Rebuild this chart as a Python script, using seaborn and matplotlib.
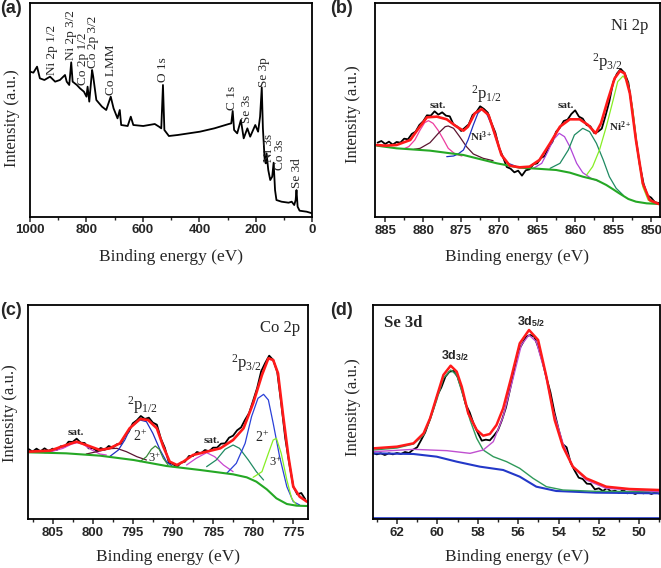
import matplotlib
matplotlib.use("Agg")
import matplotlib.pyplot as plt
from matplotlib.ticker import MultipleLocator
import seaborn as sns

# ---------------- Panel (a): survey spectrum ----------------
a_ev = [1000, 988, 975, 965, 949, 929, 911, 894, 876, 870, 861, 854, 849, 834, 823, 809, 800, 796,
        790, 780, 776, 765, 745, 730, 714, 704, 690, 682, 677, 654, 643, 634, 599, 558, 543, 535,
        529, 524, 508, 477, 398, 347, 296, 287, 282, 277, 266, 253, 243, 230, 220, 202, 192, 185,
        179, 175, 169, 165, 162, 156, 149, 142, 137, 132, 127, 109, 84, 73, 64, 59, 56, 52, 45, 20, 0]
a_int = [435, 432, 450, 415, 410, 420, 405, 410, 425, 405, 395, 463, 405, 395, 385, 375, 360, 390,
         345, 440, 420, 350, 330, 320, 360, 325, 295, 320, 275, 272, 300, 275, 272, 278, 270, 265,
         395, 260, 242, 245, 255, 265, 278, 280, 317, 260, 250, 290, 235, 265, 240, 275, 255, 300,
         388, 265, 175, 160, 190, 140, 110, 120, 162, 80, 50, 45, 42, 45, 35, 50, 80, 30, 18, 15, 10]
a_labels = ["Ni 2p 1/2", "Ni 2p 3/2", "Co 2p 1/2", "Co 2p 3/2", "Co LMM", "O 1s", "C 1s",
            "Se 3s", "Se 3p", "Ni 3s", "Co 3s", "Se 3d"]
a_label_ev = [923, 855, 811, 778, 713, 530, 283, 231, 170, 152, 116, 54]
a_label_int = [425, 470, 395, 445, 365, 405, 320, 280, 390, 165, 140, 85]

# ---------------- Panel (b): Ni 2p ----------------
b_ev = [886.0, 885.5, 885.0, 884.5, 884.0, 883.5, 883.0, 882.5, 882.0, 881.5, 881.0, 880.5, 880.0,
        879.5, 879.0, 878.5, 878.0, 877.5, 877.0, 876.5, 876.0, 875.5, 875.0, 874.5, 874.0, 873.5,
        873.0, 872.5, 872.0, 871.5, 871.0, 870.5, 870.0, 869.5, 869.0, 868.5, 868.0, 867.5, 867.0,
        866.5, 866.0, 865.5, 865.0, 864.5, 864.0, 863.5, 863.0, 862.5, 862.0, 861.5, 861.0, 860.5,
        860.0, 859.5, 859.0, 858.5, 858.0, 857.5, 857.0, 856.5, 856.0, 855.5, 855.0, 854.5, 854.0,
        853.5, 853.0, 852.5, 852.0, 851.5, 851.0, 850.5, 850.0, 849.5, 849.0]
b_raw = [223, 228, 219, 226, 217, 225, 223, 235, 233, 249, 256, 276, 287,
         305, 304, 317, 307, 314, 304, 302, 277, 271, 258, 268, 278, 306,
         315, 332, 324, 313, 281, 253, 207, 180, 150, 145, 134, 139, 124,
         140, 143, 158, 161, 177, 183, 209, 225, 256, 268, 288, 292, 309,
         320, 301, 295, 276, 272, 252, 256, 265, 304, 347, 404, 430, 444,
         432, 403, 326, 234, 157, 100, 65, 58, 44, 42]
b_fit_ev = [886.1, 885.0, 883.5, 881.7, 880.6, 879.5, 878.2, 876.9, 875.6, 874.7, 874.1, 873.2,
            872.3, 871.4, 870.6, 869.7, 868.6, 867.3, 866.0, 864.7, 863.3, 862.0, 860.7, 859.4,
            858.3, 857.3, 856.6, 855.7, 854.8, 854.1, 853.5, 852.8, 852.0, 851.1, 850.2, 849.0]
b_fit = [216, 214, 216, 231, 266, 299, 301, 293, 271, 259, 271, 311,
         324, 306, 251, 186, 154, 149, 151, 171, 221, 271, 293, 293,
         276, 251, 281, 351, 416, 438, 431, 371, 231, 101, 51, 39]
b_bg_ev = [886.1, 883.5, 879.1, 874.7, 870.3, 867.3, 865.1, 862.5, 860.7, 859.0, 857.2, 855.9,
           855.0, 854.2, 853.0, 852.0, 850.6, 849.0]
b_bg = [214, 206, 199, 186, 161, 148, 145, 141, 133, 121, 111, 96, 83, 71, 54, 46, 41, 39]
b_sat1_ev = [882.4, 881.9, 881.1, 880.4, 879.8, 879.3, 878.7, 878.0, 877.3, 876.7, 875.8, 874.9]
b_sat1 = [206, 211, 231, 261, 283, 289, 281, 259, 231, 206, 189, 183]
b_sat2_ev = [881.2, 880.4, 879.1, 878.0, 877.1, 876.7, 876.0, 875.2, 874.3, 873.4, 872.1, 870.8]
b_sat2 = [203, 206, 223, 251, 271, 273, 266, 241, 211, 189, 176, 169]
b_ni3_ev = [876.9, 876.0, 875.4, 874.7, 874.1, 873.4, 872.8, 872.3, 871.7, 871.0, 870.3, 869.7,
            868.8, 867.7]
b_ni3 = [181, 183, 189, 201, 231, 276, 311, 323, 313, 276, 226, 186, 161, 151]
b_sat3_ev = [865.5, 864.4, 863.6, 862.9, 862.1, 861.4, 860.7, 859.8, 859.0, 857.9, 856.8]
b_sat3 = [146, 161, 196, 231, 251, 241, 211, 161, 133, 116, 106]
b_sat4_ev = [863.3, 862.0, 860.9, 860.1, 859.0, 858.1, 857.2, 856.3, 855.5, 854.6, 853.7]
b_sat4 = [146, 161, 201, 246, 266, 256, 221, 171, 121, 86, 66]
b_ni2_ev = [858.5, 857.7, 856.8, 855.9, 855.0, 854.4, 853.7, 853.1, 852.4, 851.8, 851.1, 850.4, 849.8]
b_ni2 = [126, 151, 201, 271, 351, 406, 423, 406, 321, 201, 91, 51, 43]

# ---------------- Panel (c): Co 2p ----------------
c_ev = [808.0, 807.5, 807.0, 806.5, 806.0, 805.5, 805.0, 804.5, 804.0, 803.5, 803.0, 802.5, 802.0,
        801.5, 801.0, 800.5, 800.0, 799.5, 799.0, 798.5, 798.0, 797.5, 797.0, 796.5, 796.0, 795.5,
        795.0, 794.5, 794.0, 793.5, 793.0, 792.5, 792.0, 791.5, 791.0, 790.5, 790.0, 789.5, 789.0,
        788.5, 788.0, 787.5, 787.0, 786.5, 786.0, 785.5, 785.0, 784.5, 784.0, 783.5, 783.0, 782.5,
        782.0, 781.5, 781.0, 780.5, 780.0, 779.5, 779.0, 778.5, 778.0, 777.5, 777.0, 776.5, 776.0,
        775.5, 775.0, 774.5, 774.0, 773.5]
c_raw = [210, 202, 211, 203, 212, 204, 211, 207, 218, 217, 232, 231, 241,
         229, 228, 212, 213, 205, 213, 208, 219, 214, 224, 226, 248, 262,
         287, 296, 309, 300, 304, 289, 283, 241, 213, 169, 165, 156, 169,
         172, 189, 189, 201, 197, 207, 203, 214, 214, 226, 227, 244, 250,
         266, 275, 298, 318, 355, 393, 443, 468, 490, 477, 442, 347, 243,
         167, 98, 74, 78, 59]
c_fit_ev = [808.0, 805.3, 803.3, 802.0, 800.8, 799.1, 797.9, 796.6, 795.4, 794.1, 793.1, 792.0,
            791.2, 790.4, 789.5, 788.7, 787.5, 785.8, 784.1, 782.5, 781.2, 780.0, 778.9, 778.1,
            777.5, 776.9, 776.3, 775.6, 775.0, 774.2, 773.3]
c_fit = [202, 205, 222, 232, 222, 207, 212, 227, 272, 300, 297, 272,
         217, 172, 162, 172, 192, 202, 212, 237, 272, 347, 432, 482,
         477, 437, 317, 187, 97, 67, 52]
c_bg_ev = [808.0, 803.3, 799.1, 794.9, 790.8, 786.6, 782.5, 780.8, 779.6, 778.3, 777.1, 775.8,
           774.6, 773.3]
c_bg = [200, 197, 190, 177, 159, 147, 134, 125, 112, 89, 62, 45, 40, 39]
c_sat1_ev = [806.0, 805.3, 803.7, 802.6, 801.9, 801.2, 800.1, 799.1, 798.3]
c_sat1 = [199, 201, 212, 225, 229, 224, 207, 195, 192]
c_sat2_ev = [800.8, 799.1, 797.9, 797.0, 795.8, 794.5, 793.3]
c_sat2 = [195, 204, 211, 212, 202, 187, 177]
c_co2a_ev = [797.9, 796.8, 796.0, 795.2, 794.1, 793.3, 792.5, 791.6, 790.8, 790.0]
c_co2a = [187, 207, 237, 277, 297, 292, 257, 207, 172, 157]
c_co3a_ev = [794.1, 793.3, 792.7, 792.2, 791.7, 791.2, 790.6]
c_co3a = [172, 187, 209, 219, 209, 182, 162]
c_sat3_ev = [788.3, 787.1, 785.8, 784.8, 783.7, 782.5]
c_sat3 = [162, 182, 199, 187, 162, 142]
c_sat4_ev = [785.8, 784.6, 783.5, 782.5, 781.7, 780.6, 779.6, 778.7]
c_sat4 = [157, 177, 209, 222, 212, 177, 142, 117]
c_co2b_ev = [783.3, 782.1, 781.0, 780.2, 779.4, 778.7, 778.1, 777.5, 776.7, 775.8, 775.0, 774.2]
c_co2b = [137, 167, 227, 307, 362, 374, 357, 287, 187, 97, 52, 42]
c_co3b_ev = [780.0, 778.9, 778.1, 777.5, 777.1, 776.5, 775.8, 775.2, 774.6]
c_co3b = [125, 142, 197, 237, 242, 197, 117, 62, 42]

# ---------------- Panel (d): Se 3d ----------------
d_ev = [63.2, 63.0, 62.8, 62.6, 62.4, 62.2, 62.0, 61.8, 61.6, 61.4, 61.2, 61.0, 60.8, 60.6, 60.4,
        60.2, 60.0, 59.8, 59.6, 59.4, 59.2, 59.0, 58.8, 58.6, 58.4, 58.2, 58.0, 57.8, 57.6, 57.4,
        57.2, 57.0, 56.8, 56.6, 56.4, 56.2, 56.0, 55.8, 55.6, 55.4, 55.2, 55.0, 54.8, 54.6, 54.4,
        54.2, 54.0, 53.8, 53.6, 53.4, 53.2, 53.0, 52.8, 52.6, 52.4, 52.2, 52.0, 51.8, 51.6, 51.4,
        51.2, 51.0, 50.8, 50.6, 50.4, 50.2, 50.0, 49.8, 49.6, 49.4, 49.2, 49.0]
d_raw = [198, 194, 197, 192, 197, 194, 198, 195, 201, 198, 208, 215, 237, 260, 294,
         330, 371, 395, 427, 442, 444, 427, 391, 345, 320, 285, 259, 235, 238, 236,
         250, 266, 297, 335, 389, 445, 504, 525, 547, 552, 547, 515, 474, 425, 380,
         320, 270, 225, 215, 169, 145, 124, 120, 106, 105, 89, 92, 84, 93, 82,
         85, 78, 88, 77, 80, 75, 81, 77, 80, 75, 80, 76]
d_fit_ev = [63.15, 62.0, 61.18, 60.68, 60.36, 60.03, 59.70, 59.34, 59.04, 58.79, 58.47, 58.05,
            57.73, 57.40, 57.07, 56.74, 56.33, 55.92, 55.46, 55.01, 54.60, 54.19, 53.78, 53.29,
            52.63, 51.64, 50.49, 49.01]
d_fit = [212, 217, 227, 257, 302, 367, 432, 460, 442, 397, 317, 267,
         250, 255, 282, 332, 427, 527, 567, 537, 427, 297, 217, 157,
         122, 97, 90, 87]
d_32_ev = [63.15, 62.0, 61.18, 60.68, 60.36, 60.03, 59.70, 59.34, 59.04, 58.71, 58.38, 58.05,
           57.73, 57.23, 56.57, 55.92, 55.26, 54.60, 53.78, 52.14, 49.01]
d_32 = [207, 213, 225, 252, 297, 357, 422, 447, 432, 367, 297, 242,
        207, 187, 172, 152, 122, 97, 87, 83, 82]
d_52_ev = [63.15, 61.18, 59.53, 58.38, 57.73, 57.23, 56.74, 56.25, 55.84, 55.46, 55.10, 54.68,
           54.27, 53.78, 53.29, 52.63, 51.64, 49.01]
d_52 = [202, 209, 205, 197, 207, 232, 307, 422, 522, 552, 532, 442,
        327, 227, 157, 117, 92, 82]
d_bg_ev = [63.15, 61.18, 60.03, 59.04, 57.89, 56.74, 55.92, 55.10, 54.11, 52.14, 49.01]
d_bg = [197, 195, 187, 172, 157, 147, 127, 97, 84, 79, 77]
d_base_ev = [63.2, 49.0]
d_base = [3, 3]

# ---------------- styling ----------------
sns.set_theme(style="white")
plt.rcParams.update({
    "font.family": ["Liberation Serif", "DejaVu Serif"],
    "mathtext.fontset": "custom",
    "mathtext.rm": "Liberation Serif",
    "mathtext.it": "Liberation Serif:italic",
    "mathtext.bf": "Liberation Serif:bold",
    "mathtext.sf": "Liberation Sans:bold",
    "axes.linewidth": 1.3,
    "axes.edgecolor": "black",
})

W, H = 661, 568
fig = plt.figure(figsize=(W / 100, H / 100), dpi=100)


def make_ax(l, t, r, b):
    return fig.add_axes([l / W, 1 - b / H, (r - l) / W, (b - t) / H])


def line(ax, x, y, color, lw):
    sns.lineplot(x=x, y=y, ax=ax, color=color, lw=lw, sort=False,
                 estimator=None, legend=False)


def style_ax(ax, xlim, ylim, major, minor):
    ax.set_xlim(*xlim)
    ax.set_ylim(*ylim)
    ax.xaxis.set_major_locator(MultipleLocator(major))
    ax.xaxis.set_minor_locator(MultipleLocator(minor))
    ax.set_yticks([])
    ax.tick_params(axis="x", which="major", direction="out", length=3.5, width=1.1,
                   pad=2, bottom=True)
    ax.tick_params(axis="x", which="minor", direction="out", length=2, width=1.0,
                   bottom=True)
    for lab in ax.get_xticklabels():
        lab.set_fontfamily("Liberation Sans")
        lab.set_fontweight("bold")
        lab.set_fontsize(9.5)
    ax.set_xlabel("")
    ax.set_ylabel("")
    for s in ax.spines.values():
        s.set_linewidth(1.3)
        s.set_color("black")


axA = make_ax(30, 3.3, 312.3, 216.7)
axB = make_ax(375.3, 3.3, 659.5, 217)
axC = make_ax(27.7, 305, 307.7, 519)
axD = make_ax(372.7, 305, 659.5, 519)

# (a)
line(axA, a_ev, a_int, "black", 1.3)
for t, x, y in zip(a_labels, a_label_ev, a_label_int):
    axA.text(x, y, t, rotation=90, ha="center", va="bottom", fontsize=9.5,
             family="Liberation Serif")
style_ax(axA, (1000, 0), (0, 640), 200, 100)

# (b)
line(axB, b_ev, b_raw, "black", 1.3)
line(axB, b_sat1_ev, b_sat1, "#ee3d9f", 0.9)
line(axB, b_sat2_ev, b_sat2, "#5a1530", 0.9)
line(axB, b_ni3_ev, b_ni3, "#1f2fc0", 0.9)
line(axB, b_sat3_ev, b_sat3, "#b145d8", 0.9)
line(axB, b_sat4_ev, b_sat4, "#1f8a62", 0.9)
line(axB, b_ni2_ev, b_ni2, "#86ee24", 0.9)
line(axB, b_bg_ev, b_bg, "#25a825", 1.5)
line(axB, b_fit_ev, b_fit, "#ff1a1a", 1.9)
style_ax(axB, (886.3, 848.9), (0, 641), 5, 2.5)
axB.text(852.8, 573, "Ni 2p", ha="center", va="center", fontsize=12)
axB.text(878.1, 333, "sat.", ha="center", va="center", fontsize=8, fontweight="bold")
axB.text(861.2, 333, "sat.", ha="center", va="center", fontsize=8, fontweight="bold")
axB.text(871.7, 368, r"$^{2}$p$_{1/2}$", ha="center", va="center", fontsize=12)
axB.text(855.7, 465, r"$^{2}$p$_{3/2}$", ha="center", va="center", fontsize=12)
axB.text(872.4, 241, r"Ni$^{\mathbf{3+}}$", ha="center", va="center", fontsize=8,
         fontweight="bold")
axB.text(854.1, 271, r"Ni$^{\mathbf{2+}}$", ha="center", va="center", fontsize=8,
         fontweight="bold")

# (c)
line(axC, c_ev, c_raw, "black", 1.3)
line(axC, c_sat1_ev, c_sat1, "#d43fcf", 0.9)
line(axC, c_sat2_ev, c_sat2, "#5a1530", 0.9)
line(axC, c_co2a_ev, c_co2a, "#1f2fc0", 0.9)
line(axC, c_co3a_ev, c_co3a, "#3a8a3a", 0.9)
line(axC, c_sat3_ev, c_sat3, "#c845cf", 0.9)
line(axC, c_sat4_ev, c_sat4, "#1f8a62", 0.9)
line(axC, c_co2b_ev, c_co2b, "#2a40d8", 0.9)
line(axC, c_co3b_ev, c_co3b, "#86ee24", 0.9)
line(axC, c_bg_ev, c_bg, "#25a825", 1.5)
line(axC, c_fit_ev, c_fit, "#ff1a1a", 1.9)
style_ax(axC, (808.1, 773.2), (0, 642), 5, 2.5)
axC.text(776.7, 572, "Co 2p", ha="center", va="center", fontsize=12)
axC.text(802.1, 259, "sat.", ha="center", va="center", fontsize=8, fontweight="bold")
axC.text(785.1, 235, "sat.", ha="center", va="center", fontsize=8, fontweight="bold")
axC.text(793.8, 342, r"$^{2}$p$_{1/2}$", ha="center", va="center", fontsize=12)
axC.text(780.8, 467, r"$^{2}$p$_{3/2}$", ha="center", va="center", fontsize=12)
axC.text(794.1, 247, r"2$^{+}$", ha="center", va="center", fontsize=10)
axC.text(792.3, 182, r"3$^{+}$", ha="center", va="center", fontsize=9)
axC.text(778.9, 245, r"2$^{+}$", ha="center", va="center", fontsize=10)
axC.text(777.2, 172, r"3$^{+}$", ha="center", va="center", fontsize=9)

# (d)
line(axD, d_ev, d_raw, "black", 1.3)
line(axD, d_bg_ev, d_bg, "#2338c8", 1.5)
line(axD, d_32_ev, d_32, "#2f9a5a", 1.0)
line(axD, d_52_ev, d_52, "#c050d0", 1.0)
line(axD, d_base_ev, d_base, "#2338c8", 1.2)
line(axD, d_fit_ev, d_fit, "#ff1a1a", 1.8)
style_ax(axD, (63.2, 49.0), (0, 642), 2, 1)
axD.text(62.66, 587, "Se 3d", ha="left", va="center", fontsize=12, fontweight="bold")
axD.text(59.09, 489, r"3d$_{\mathsf{3/2}}$", ha="center", va="center", fontsize=9,
         family="Liberation Sans", fontweight="bold")
axD.text(55.34, 592, r"3d$_{\mathsf{5/2}}$", ha="center", va="center", fontsize=9,
         family="Liberation Sans", fontweight="bold")

# axis titles and panel letters
for (cx, cy) in [(171, 257), (517, 257), (168, 557), (517, 557)]:
    fig.text(cx / W, 1 - cy / H, "Binding energy (eV)", ha="center", va="center",
             fontsize=12.5, family="Liberation Serif")
for (cx, cy) in [(12, 118), (353, 114), (10, 413), (353, 407)]:
    fig.text(cx / W, 1 - cy / H, "Intensity (a.u.)", ha="center", va="center",
             rotation=90, fontsize=12, family="Liberation Serif")
for (lx, ly, t) in [(0, 0, "(a)"), (330, 0, "(b)"), (0, 302, "(c)"), (330, 302, "(d)")]:
    fig.text(lx / W, 1 - ly / H, t, ha="left", va="top", fontsize=13,
             fontweight="bold", family="Liberation Sans")

fig.savefig("out.png", dpi=100)
